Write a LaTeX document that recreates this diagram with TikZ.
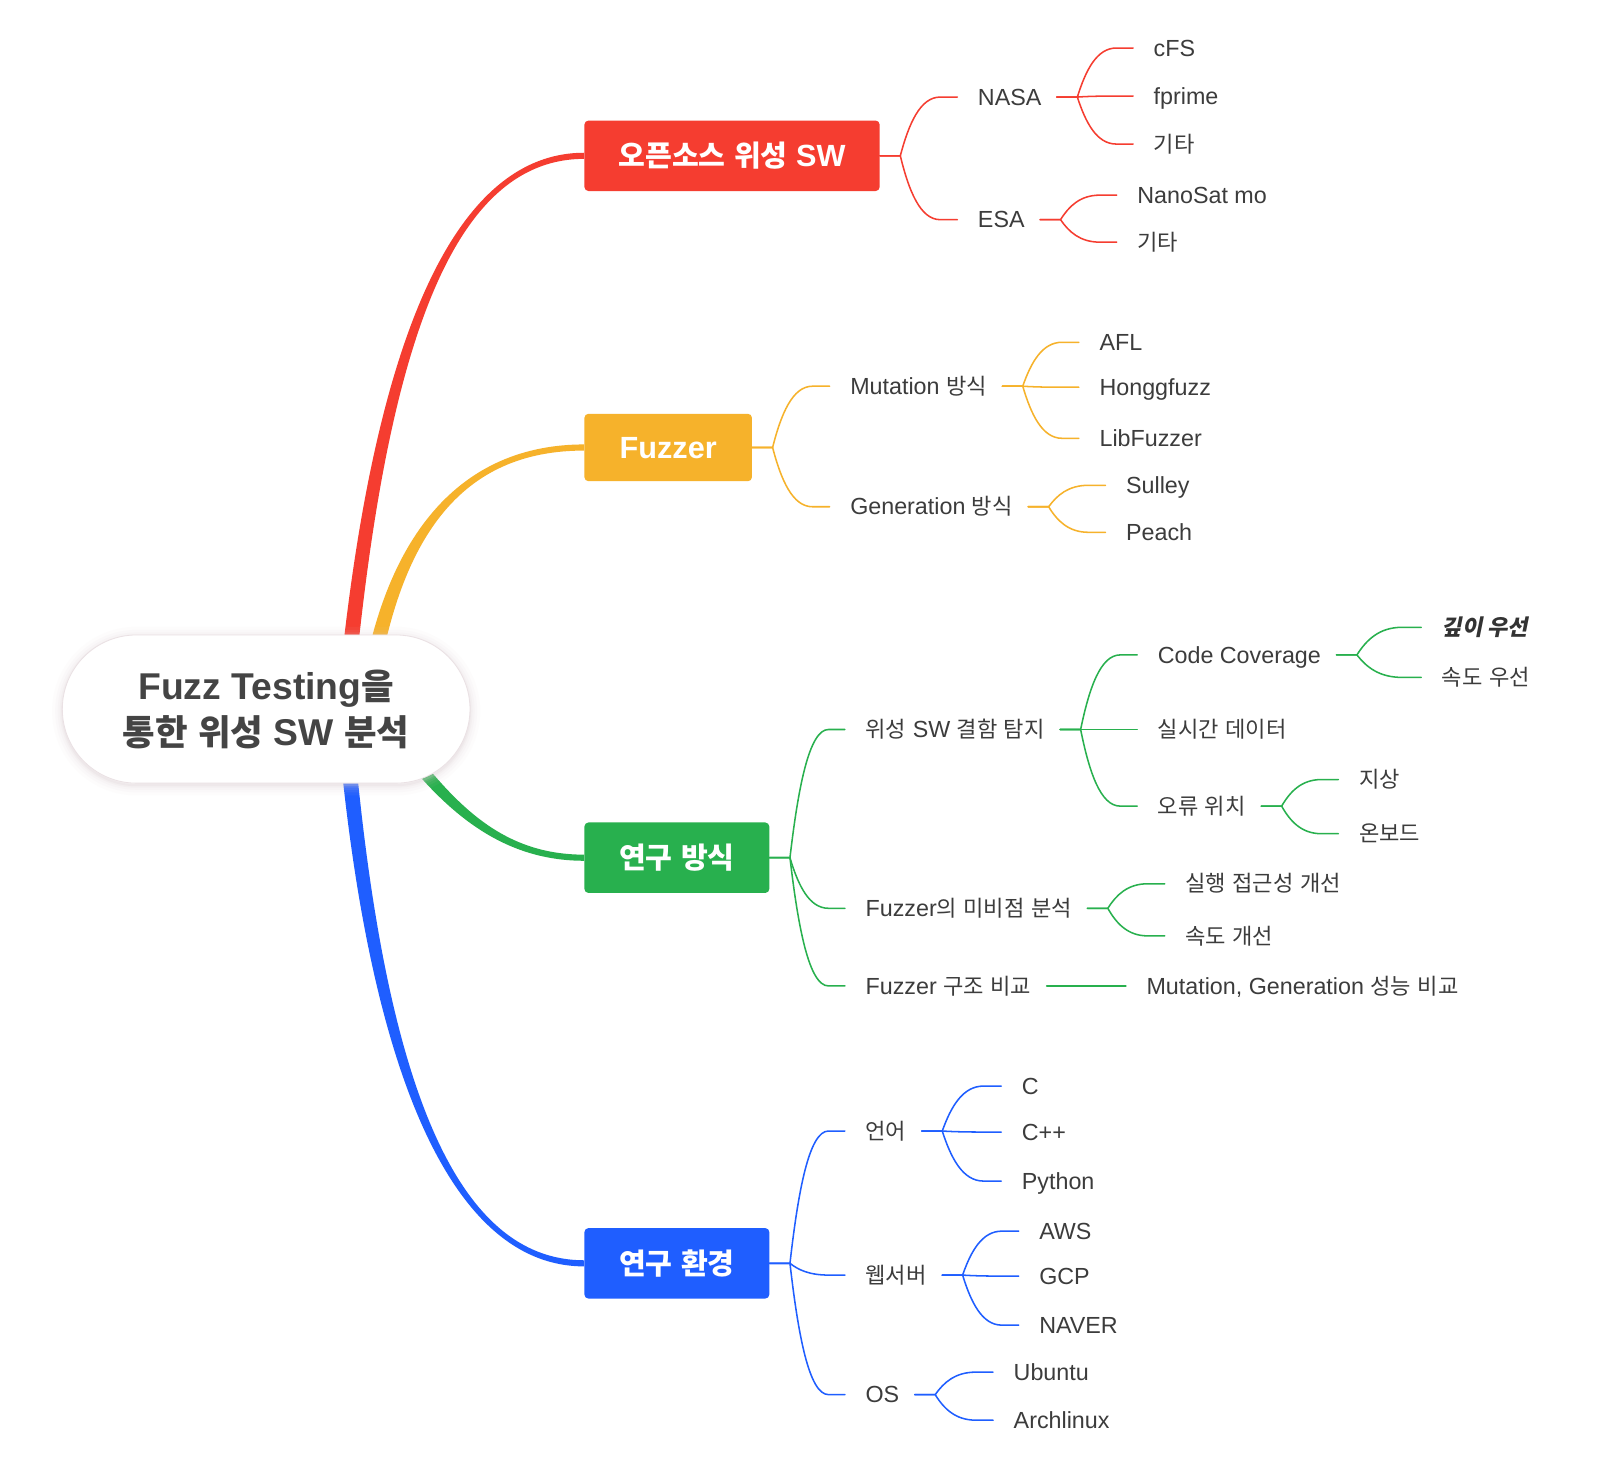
\documentclass[tikz,border=0pt]{standalone}
\usepackage{fontspec}
\setmainfont{Liberation Sans}
\newfontfamily\krfont[Scale=0.95]{Noto Sans CJK KR}
\newfontfamily\krslant[Scale=0.95,FakeSlant=0.2]{Noto Sans CJK KR}
\newcommand\K[1]{{\krfont #1}}
\usetikzlibrary{calc}
\definecolor{cred}{HTML}{F53D30}
\definecolor{cyel}{HTML}{F6B22B}
\definecolor{cgrn}{HTML}{28B04E}
\definecolor{cblu}{HTML}{1F5EFF}
\definecolor{ctxt}{HTML}{3C3C3C}
\definecolor{croot}{HTML}{444444}
\definecolor{cshadow}{HTML}{DCCDD2}
\newcommand\conn[4][15]{%
 \draw[cn,#4] let \p1=($(#2.east)+(#1,0)$), \p2=($(#3.west)+(-20,0)$) in
 (\p1) -- ({\x1+20pt},\y1) .. controls ({\x1+20pt+0.15*(\x2-\x1-20pt)},{\y1+0.55*(\y2-\y1)}) and ({\x1+20pt+0.35*(\x2-\x1-20pt)},\y2) .. ({\x1+20pt+0.7*(\x2-\x1-20pt)},\y2) -- (\p2);}
\begin{document}
\begin{tikzpicture}[x=1pt,y=-1pt,
  cn/.style={line width=1.5pt, line cap=round},
  rootn/.style={rectangle, rounded corners=72.5pt, minimum width=399pt, minimum height=145pt, fill=white, draw=cshadow!60, line width=0.8pt, align=center, inner sep=0pt, text=croot, font=\bfseries\fontsize{36.5}{45}\selectfont},
  lvl1/.style={rectangle, rounded corners=4pt, inner sep=0pt, text=white, font=\bfseries\fontsize{30}{36}\selectfont, text height=21pt, text depth=0pt},
  lbl/.style={anchor=west, inner sep=0pt, text=ctxt, font=\fontsize{22.8}{27}\selectfont, text height=16pt, text depth=0pt}]
\useasboundingbox[fill=white] (0,0) rectangle (1568,1435);

% level-1 boxes
\node[lvl1, fill=cred, minimum width=289pt, minimum height=69pt] (oss) at (716.5,152.5) {\K{오픈소스} \K{위성} SW};
\node[lvl1, fill=cyel, minimum width=164pt, minimum height=66pt] (fuzz) at (654,438) {Fuzzer};
\node[lvl1, fill=cgrn, minimum width=181pt, minimum height=69pt] (meth) at (662.5,839.5) {\K{연구} \K{방식}};
\node[lvl1, fill=cblu, minimum width=181pt, minimum height=69pt] (env) at (662.5,1236.5) {\K{연구} \K{환경}};

% main tapered curves (beneath the root)
\coordinate (rc) at (260.5,694);
\fill[cred] ($(rc)+(80,50.6)$) .. controls (370.5,349.9) and (438.7,155.5) .. ($(oss.west)+(0,3)$)
  -- ($(oss.west)+(0,-3)$) .. controls (438.7,149.5) and (355.5,348.7) .. ($(rc)+(65,49.4)$) -- cycle;
\fill[cyel] ($(rc)+(104.9,2)$) .. controls (387.7,524.3) and (451.7,441) .. ($(fuzz.west)+(0,3)$)
  -- ($(fuzz.west)+(0,-3)$) .. controls (451.7,435) and (372.9,522.3) .. ($(rc)+(90.1,0)$) -- cycle;
\fill[cgrn] ($(rc)+(134.3,27.3)$) .. controls (444.8,786.3) and (490,836.5) .. ($(meth.west)+(0,-3)$)
  -- ($(meth.west)+(0,3)$) .. controls (490,842.5) and (435.2,793.7) .. ($(rc)+(124.7,34.7)$) -- cycle;
\fill[cblu] ($(rc)+(80,-48.5)$) .. controls (366.5,1039.2) and (438.7,1233.5) .. ($(env.west)+(0,-3)$)
  -- ($(env.west)+(0,3)$) .. controls (438.7,1239.5) and (351.5,1040.2) .. ($(rc)+(65,-47.5)$) -- cycle;

% root shadow and root
\foreach \w/\o in {20/0.05,14/0.07,9/0.09,5/0.12,2/0.2}{
  \draw[line width=\w pt, cshadow, opacity=\o, rounded corners=72.5pt] (61,623.5) rectangle (460,768.5);}
\node[rootn] (root) at (rc) {Fuzz Testing\K{을}\\\K{통한} \K{위성} SW \K{분석}};

% red branch
\node[lbl] (nasa) at (957,95) {NASA};
\node[lbl] (esa) at (957,215) {ESA};
\node[lbl] (cfs) at (1129,47) {cFS};
\node[lbl] (fprime) at (1129,94) {fprime};
\node[lbl] (etc1) at (1129,141) {\K{기타}};
\node[lbl] (nanosat) at (1113,191) {NanoSat mo};
\node[lbl] (etc2) at (1113,237) {\K{기타}};
\conn[0]{oss}{nasa}{cred}
\conn[0]{oss}{esa}{cred}
\conn{nasa}{cfs}{cred}
\conn{nasa}{fprime}{cred}
\conn{nasa}{etc1}{cred}
\conn{esa}{nanosat}{cred}
\conn{esa}{etc2}{cred}

% yellow branch
\node[lbl] (mut) at (832,378) {Mutation \K{방식}};
\node[lbl] (gen) at (832,496) {Generation \K{방식}};
\node[lbl] (afl) at (1076,335) {AFL};
\node[lbl] (hong) at (1076,379) {Honggfuzz};
\node[lbl] (lib) at (1076,429) {LibFuzzer};
\node[lbl] (sulley) at (1102,475) {Sulley};
\node[lbl] (peach) at (1102,521) {Peach};
\conn[0]{fuzz}{mut}{cyel}
\conn[0]{fuzz}{gen}{cyel}
\conn{mut}{afl}{cyel}
\conn{mut}{hong}{cyel}
\conn{mut}{lib}{cyel}
\conn{gen}{sulley}{cyel}
\conn{gen}{peach}{cyel}

% green branch
\node[lbl] (det) at (847,714) {\K{위성} SW \K{결함} \K{탐지}};
\node[lbl] (weak) at (847,889) {Fuzzer\K{의} \K{미비점} \K{분석}};
\node[lbl] (comp) at (847,965) {Fuzzer \K{구조} \K{비교}};
\node[lbl] (cov) at (1133,641) {Code Coverage};
\node[lbl] (rt) at (1133,714) {\K{실시간} \K{데이터}};
\node[lbl] (loc) at (1133,789) {\K{오류} \K{위치}};
\node[lbl, text=black!80] (depth) at (1411,614) {\bfseries{\krslant 깊이 우선}};
\node[lbl] (speed) at (1411,663) {\K{속도} \K{우선}};
\node[lbl] (ground) at (1330,763) {\K{지상}};
\node[lbl] (onboard) at (1330,816) {\K{온보드}};
\node[lbl] (access) at (1160,865) {\K{실행} \K{접근성} \K{개선}};
\node[lbl] (speedb) at (1160,916) {\K{속도} \K{개선}};
\node[lbl] (mg) at (1122,965) {Mutation, Generation \K{성능} \K{비교}};
\conn[0]{meth}{det}{cgrn}
\conn[0]{meth}{weak}{cgrn}
\conn[0]{meth}{comp}{cgrn}
\conn{det}{cov}{cgrn}
\conn{det}{rt}{cgrn}
\conn{det}{loc}{cgrn}
\conn{cov}{depth}{cgrn}
\conn{cov}{speed}{cgrn}
\conn{loc}{ground}{cgrn}
\conn{loc}{onboard}{cgrn}
\conn{weak}{access}{cgrn}
\conn{weak}{speedb}{cgrn}
\conn{comp}{mg}{cgrn}

% blue branch
\node[lbl] (lang) at (847,1107) {\K{언어}};
\node[lbl] (web) at (847,1248) {\K{웹서버}};
\node[lbl] (os) at (847,1365) {OS};
\node[lbl] (c) at (1000,1063) {C};
\node[lbl] (cpp) at (1000,1108) {C++};
\node[lbl] (py) at (1000,1156) {Python};
\node[lbl] (aws) at (1017,1205) {AWS};
\node[lbl] (gcp) at (1017,1249) {GCP};
\node[lbl] (naver) at (1017,1297) {NAVER};
\node[lbl] (ubuntu) at (992,1343) {Ubuntu};
\node[lbl] (arch) at (992,1390) {Archlinux};
\conn[0]{env}{lang}{cblu}
\conn[0]{env}{web}{cblu}
\conn[0]{env}{os}{cblu}
\conn{lang}{c}{cblu}
\conn{lang}{cpp}{cblu}
\conn{lang}{py}{cblu}
\conn{web}{aws}{cblu}
\conn{web}{gcp}{cblu}
\conn{web}{naver}{cblu}
\conn{os}{ubuntu}{cblu}
\conn{os}{arch}{cblu}
\end{tikzpicture}
\end{document}
